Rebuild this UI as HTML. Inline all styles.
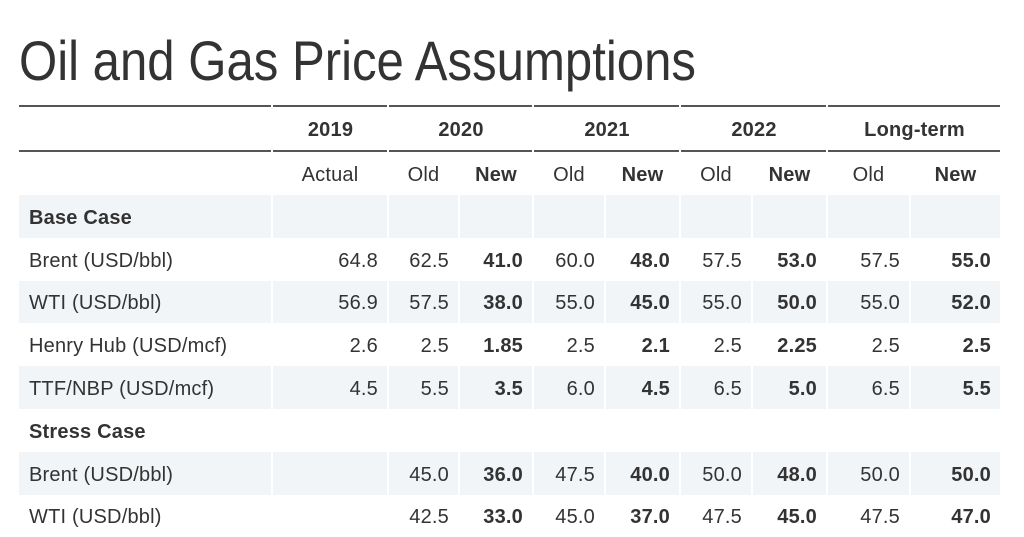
<!DOCTYPE html>
<html>
<head>
<meta charset="utf-8">
<style>
  html, body { margin:0; padding:0; background:#fff; }
  body { width:1024px; height:512px; overflow:hidden; position:relative;
         font-family:"Liberation Sans", Arial, sans-serif; color:#333; }
  .title { position:absolute; left:19px; top:33px; font-size:56px; line-height:56px;
           white-space:nowrap; transform:scaleX(0.877); transform-origin:left top; color:#333; }
  table { position:absolute; left:17px; top:105px; border-collapse:separate;
          border-spacing:2px 0; table-layout:fixed; font-size:20px; }
  td { padding:4px 9px 0 10px; vertical-align:middle; white-space:nowrap; overflow:hidden; letter-spacing:0.2px; }
  tr { height:42.8px; }
  tr.h { height:47px; }
  tr.h td { border-top:2px solid #555; border-bottom:2px solid #555; font-weight:bold; text-align:center; padding-top:4px; }
  tr.sub { height:43px; }
  tr.sub td { text-align:center; padding-left:0; padding-right:0; }
  tr.s td { background:#f2f5f7; }
  td.n { text-align:right; }
  td.b { font-weight:bold; }
  td.sec { font-weight:bold; }
</style>
</head>
<body>
<div class="title">Oil and Gas Price Assumptions</div>
<table>
  <colgroup>
    <col style="width:252px"><col style="width:114px"><col style="width:69px"><col style="width:72px">
    <col style="width:70px"><col style="width:73px"><col style="width:70px"><col style="width:73px">
    <col style="width:81px"><col style="width:89px">
  </colgroup>
  <tr class="h">
    <td></td><td>2019</td><td colspan="2">2020</td><td colspan="2">2021</td><td colspan="2">2022</td><td colspan="2">Long-term</td>
  </tr>
  <tr class="sub">
    <td></td><td>Actual</td><td>Old</td><td class="b">New</td><td>Old</td><td class="b">New</td><td>Old</td><td class="b">New</td><td>Old</td><td class="b">New</td>
  </tr>
  <tr class="s">
    <td class="sec">Base Case</td><td></td><td></td><td></td><td></td><td></td><td></td><td></td><td></td><td></td>
  </tr>
  <tr>
    <td>Brent (USD/bbl)</td><td class="n">64.8</td><td class="n">62.5</td><td class="n b">41.0</td><td class="n">60.0</td><td class="n b">48.0</td><td class="n">57.5</td><td class="n b">53.0</td><td class="n">57.5</td><td class="n b">55.0</td>
  </tr>
  <tr class="s">
    <td>WTI (USD/bbl)</td><td class="n">56.9</td><td class="n">57.5</td><td class="n b">38.0</td><td class="n">55.0</td><td class="n b">45.0</td><td class="n">55.0</td><td class="n b">50.0</td><td class="n">55.0</td><td class="n b">52.0</td>
  </tr>
  <tr>
    <td>Henry Hub (USD/mcf)</td><td class="n">2.6</td><td class="n">2.5</td><td class="n b">1.85</td><td class="n">2.5</td><td class="n b">2.1</td><td class="n">2.5</td><td class="n b">2.25</td><td class="n">2.5</td><td class="n b">2.5</td>
  </tr>
  <tr class="s">
    <td>TTF/NBP (USD/mcf)</td><td class="n">4.5</td><td class="n">5.5</td><td class="n b">3.5</td><td class="n">6.0</td><td class="n b">4.5</td><td class="n">6.5</td><td class="n b">5.0</td><td class="n">6.5</td><td class="n b">5.5</td>
  </tr>
  <tr>
    <td class="sec">Stress Case</td><td></td><td></td><td></td><td></td><td></td><td></td><td></td><td></td><td></td>
  </tr>
  <tr class="s">
    <td>Brent (USD/bbl)</td><td class="n"></td><td class="n">45.0</td><td class="n b">36.0</td><td class="n">47.5</td><td class="n b">40.0</td><td class="n">50.0</td><td class="n b">48.0</td><td class="n">50.0</td><td class="n b">50.0</td>
  </tr>
  <tr>
    <td>WTI (USD/bbl)</td><td class="n"></td><td class="n">42.5</td><td class="n b">33.0</td><td class="n">45.0</td><td class="n b">37.0</td><td class="n">47.5</td><td class="n b">45.0</td><td class="n">47.5</td><td class="n b">47.0</td>
  </tr>
</table>
</body>
</html>
